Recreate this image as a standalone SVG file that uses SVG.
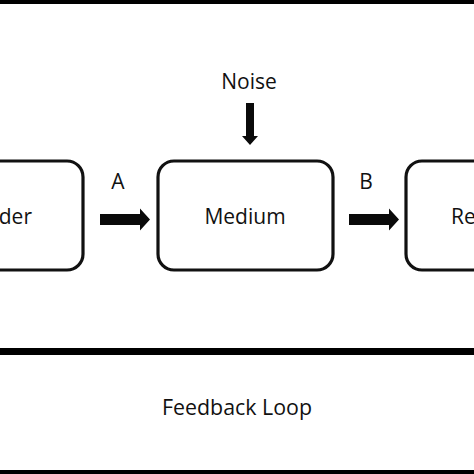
<svg xmlns="http://www.w3.org/2000/svg" width="474" height="474" viewBox="0 0 474 474">
<style>
.t{font-family:"Open Sans","Liberation Sans",sans-serif;font-size:21px;fill:#111;}
.box{fill:#fff;stroke:#111;stroke-width:3.2;}
.bar{fill:#000;}
</style>
<defs>
<path id="harrow" d="M0,-5.5 H40 V-11 L50,0 L40,11 V5.5 H0 Z" fill="#0a0a0a"/>
</defs>
<rect width="474" height="474" fill="#fff"/>
<rect class="bar" x="0" y="0" width="474" height="4"/>
<rect class="bar" x="0" y="348" width="474" height="7"/>
<rect class="bar" x="0" y="470" width="474" height="4"/>
<g id="sender">
<rect class="box" x="-100" y="161" width="183" height="109" rx="16"/>
<text class="t" x="32" y="224" text-anchor="end">der</text>
</g>
<g id="medium">
<rect class="box" x="158" y="161" width="175" height="109" rx="16"/>
<text class="t" x="245" y="224" text-anchor="middle">Medium</text>
</g>
<g id="receiver">
<rect class="box" x="406" y="161" width="183" height="109" rx="16"/>
<text class="t" x="451" y="224">Re</text>
</g>
<g id="noise">
<text class="t" x="249" y="89" text-anchor="middle">Noise</text>
</g>
<g id="feedback">
<text class="t" x="237" y="415" text-anchor="middle" textLength="150" lengthAdjust="spacingAndGlyphs">Feedback Loop</text>
</g>
<g id="connectors">
<path d="M246,103 H254 V136 H258 L250,145 L242,136 H246 Z" fill="#0a0a0a"/>
<use href="#harrow" x="100" y="219.5"/>
<use href="#harrow" x="349" y="219.5"/>
<text class="t" x="118" y="189" text-anchor="middle">A</text>
<text class="t" x="366" y="189" text-anchor="middle">B</text>
</g>
</svg>
